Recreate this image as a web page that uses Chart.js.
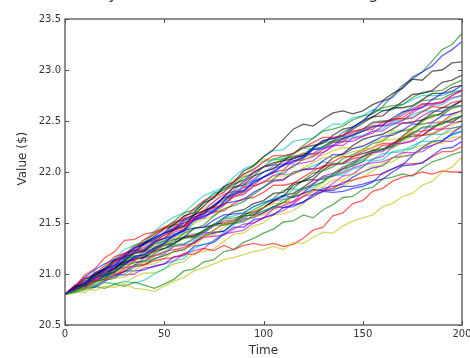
<!DOCTYPE html>
<html><head><meta charset="utf-8">
<script src="https://cdn.jsdelivr.net/npm/chart.js@4/dist/chart.umd.min.js"></script>
<style>html,body{margin:0;padding:0;background:#fff;overflow:hidden}canvas{display:block;filter:blur(0.35px)}</style>
</head><body><canvas id="c" width="470" height="358"></canvas>
<script>
const titleText = 'Many simulated stock values from lognormal';
const xTitle = 'Time';
const yTitle = 'Value ($)';
const times = [0,5,10,15,20,25,30,35,40,45,50,55,60,65,70,75,80,85,90,95,100,105,110,115,120,125,130,135,140,145,150,155,160,165,170,175,180,185,190,195,200];
const path01 = [20.80,20.88,20.91,21.01,21.05,21.08,21.18,21.26,21.28,21.36,21.40,21.44,21.52,21.56,21.59,21.68,21.75,21.78,21.81,21.89,21.95,22.01,22.07,22.09,22.15,22.22,22.23,22.26,22.33,22.36,22.40,22.44,22.46,22.53,22.59,22.61,22.63,22.71,22.77,22.79,22.85];
const path02 = [20.80,20.83,20.90,20.93,20.95,21.03,21.09,21.11,21.13,21.20,21.25,21.30,21.35,21.36,21.42,21.48,21.48,21.50,21.57,21.58,21.62,21.66,21.70,21.77,21.84,21.87,21.90,21.98,22.05,22.08,22.15,22.22,22.23,22.25,22.32,22.38,22.44,22.45,22.47,22.52,22.55];
const path03 = [20.80,20.88,20.96,21.00,21.08,21.17,21.20,21.25,21.34,21.39,21.45,21.51,21.55,21.64,21.72,21.76,21.80,21.90,21.98,22.02,22.10,22.16,22.16,22.18,22.24,22.29,22.34,22.34,22.36,22.40,22.42,22.45,22.46,22.52,22.52,22.53,22.59,22.64,22.63,22.68,22.70];
const path04 = [20.80,20.83,20.85,20.91,20.97,20.98,21.00,21.07,21.13,21.14,21.20,21.28,21.30,21.33,21.41,21.48,21.55,21.57,21.60,21.66,21.70,21.74,21.75,21.83,21.83,21.85,21.91,21.97,21.97,22.03,22.05,22.11,22.12,22.20,22.22,22.23,22.31,22.37,22.37,22.43,22.45];
const path05 = [20.80,20.89,20.91,20.95,21.03,21.11,21.18,21.21,21.24,21.31,21.35,21.41,21.44,21.54,21.56,21.60,21.68,21.76,21.78,21.86,21.90,21.97,21.98,22.07,22.09,22.11,22.19,22.26,22.26,22.33,22.35,22.38,22.45,22.48,22.50,22.58,22.64,22.66,22.68,22.75,22.80];
const path06 = [20.80,20.83,20.86,20.84,20.88,20.87,20.90,20.86,20.85,20.83,20.88,20.93,20.97,21.03,21.06,21.10,21.14,21.16,21.19,21.22,21.24,21.27,21.24,21.31,21.30,21.36,21.41,21.40,21.47,21.52,21.55,21.58,21.66,21.69,21.76,21.79,21.87,21.91,22.00,22.05,22.15];
const path07 = [20.80,20.87,20.90,21.00,21.04,21.13,21.16,21.26,21.30,21.37,21.44,21.48,21.57,21.60,21.70,21.74,21.86,21.90,22.01,22.06,22.15,22.22,22.32,22.42,22.47,22.45,22.52,22.58,22.60,22.57,22.60,22.66,22.70,22.77,22.82,22.91,22.90,22.99,23.00,23.07,23.08];
const path08 = [20.80,20.85,20.88,20.97,20.99,21.02,21.10,21.17,21.19,21.26,21.30,21.39,21.42,21.53,21.57,21.61,21.71,21.80,21.82,21.91,21.95,21.99,22.07,22.11,22.14,22.23,22.30,22.33,22.36,22.44,22.50,22.59,22.69,22.73,22.83,22.93,22.98,23.04,23.14,23.20,23.28];
const path09 = [20.80,20.87,20.89,20.97,21.00,21.02,21.11,21.18,21.18,21.25,21.28,21.32,21.40,21.44,21.48,21.57,21.64,21.67,21.71,21.78,21.85,21.93,22.01,22.05,22.13,22.22,22.25,22.30,22.39,22.44,22.50,22.58,22.64,22.75,22.85,22.91,22.98,23.09,23.20,23.25,23.36];
const path10 = [20.80,20.85,20.86,20.93,20.95,21.00,21.02,21.07,21.09,21.13,21.15,21.16,21.20,21.19,21.25,21.23,21.28,21.24,21.28,21.30,21.28,21.30,21.27,21.29,21.35,21.43,21.46,21.57,21.60,21.69,21.72,21.81,21.84,21.91,21.95,21.97,22.00,21.98,22.01,22.00,22.00];
const path11 = [20.80,20.84,20.93,20.97,21.01,21.10,21.18,21.21,21.25,21.33,21.40,21.48,21.57,21.61,21.70,21.79,21.83,21.88,21.98,22.03,22.10,22.12,22.13,22.18,22.23,22.23,22.24,22.30,22.35,22.35,22.40,22.46,22.45,22.46,22.51,22.56,22.60,22.60,22.60,22.64,22.65];
const path12 = [20.80,20.85,20.91,20.93,20.99,21.05,21.06,21.08,21.16,21.18,21.22,21.24,21.26,21.31,21.36,21.37,21.38,21.44,21.49,21.50,21.55,21.64,21.67,21.71,21.80,21.88,21.96,21.99,22.03,22.10,22.15,22.19,22.20,22.28,22.28,22.30,22.36,22.42,22.42,22.48,22.50];
const path13 = [20.80,20.83,20.84,20.90,20.95,20.96,20.97,21.04,21.09,21.10,21.15,21.23,21.25,21.28,21.36,21.43,21.50,21.52,21.55,21.61,21.65,21.69,21.70,21.78,21.78,21.80,21.86,21.92,21.92,21.98,22.00,22.06,22.06,22.14,22.15,22.16,22.23,22.29,22.28,22.34,22.35];
const path14 = [20.80,20.86,20.89,20.99,21.01,21.05,21.13,21.21,21.23,21.31,21.35,21.44,21.47,21.58,21.62,21.66,21.76,21.85,21.87,21.96,22.00,22.03,22.11,22.13,22.16,22.24,22.31,22.33,22.35,22.42,22.48,22.54,22.60,22.62,22.69,22.76,22.77,22.80,22.88,22.90,22.95];
const path15 = [20.80,20.88,20.90,21.00,21.03,21.06,21.15,21.23,21.24,21.32,21.35,21.37,21.43,21.45,21.46,21.53,21.58,21.59,21.60,21.66,21.70,21.73,21.77,21.75,21.79,21.83,21.82,21.82,21.86,21.86,21.88,21.91,21.93,22.00,22.06,22.07,22.09,22.16,22.23,22.24,22.30];
const path16 = [20.80,20.82,20.85,20.88,20.86,20.90,20.88,20.92,20.89,20.86,20.90,20.95,21.03,21.05,21.12,21.14,21.22,21.24,21.31,21.35,21.40,21.44,21.51,21.52,21.58,21.55,21.63,21.68,21.75,21.76,21.83,21.85,21.93,21.95,21.98,21.96,22.04,22.10,22.13,22.17,22.20];
const path17 = [20.80,20.89,20.92,20.95,21.04,21.12,21.20,21.23,21.26,21.33,21.38,21.43,21.46,21.54,21.62,21.65,21.68,21.77,21.85,21.87,21.95,22.00,22.02,22.11,22.12,22.15,22.22,22.29,22.30,22.37,22.40,22.42,22.49,22.51,22.53,22.60,22.66,22.67,22.69,22.75,22.80];
const path18 = [20.80,20.83,20.85,20.89,20.92,20.90,20.93,20.91,20.94,21.00,21.05,21.13,21.15,21.25,21.29,21.32,21.41,21.49,21.51,21.58,21.62,21.65,21.73,21.76,21.79,21.88,21.95,21.97,22.00,22.07,22.13,22.20,22.21,22.24,22.31,22.37,22.43,22.44,22.47,22.52,22.55];
const path19 = [20.80,20.86,20.93,20.95,21.02,21.09,21.11,21.14,21.22,21.25,21.30,21.38,21.43,21.55,21.59,21.65,21.75,21.85,21.89,21.99,22.05,22.07,22.08,22.13,22.18,22.18,22.19,22.25,22.30,22.30,22.35,22.40,22.40,22.47,22.48,22.48,22.55,22.60,22.59,22.64,22.65];
const path20 = [20.80,20.84,20.87,20.93,21.00,21.02,21.05,21.13,21.19,21.21,21.28,21.36,21.39,21.50,21.54,21.57,21.67,21.75,21.78,21.86,21.90,21.96,21.96,21.98,22.04,22.09,22.14,22.14,22.16,22.20,22.22,22.24,22.31,22.32,22.34,22.41,22.47,22.48,22.49,22.55,22.60];
const path21 = [20.80,20.88,20.89,20.92,20.99,21.06,21.12,21.14,21.16,21.22,21.25,21.30,21.36,21.37,21.43,21.49,21.50,21.52,21.59,21.61,21.65,21.72,21.76,21.87,21.91,21.96,22.05,22.14,22.18,22.26,22.32,22.35,22.37,22.42,22.48,22.49,22.51,22.58,22.63,22.64,22.70];
const path22 = [20.80,20.88,20.97,21.04,21.10,21.14,21.20,21.24,21.31,21.35,21.40,21.43,21.50,21.53,21.55,21.63,21.69,21.71,21.73,21.80,21.85,21.91,21.92,22.00,22.02,22.03,22.11,22.17,22.17,22.23,22.25,22.30,22.35,22.36,22.41,22.47,22.47,22.49,22.55,22.57,22.60];
const path23 = [20.80,20.87,20.89,20.99,21.02,21.04,21.13,21.20,21.22,21.29,21.32,21.38,21.44,21.53,21.62,21.67,21.72,21.82,21.91,21.96,22.05,22.07,22.13,22.15,22.17,22.24,22.29,22.30,22.32,22.37,22.42,22.49,22.50,22.51,22.58,22.64,22.70,22.71,22.72,22.77,22.80];
const path24 = [20.80,20.84,20.93,20.96,21.00,21.09,21.17,21.20,21.23,21.31,21.38,21.46,21.48,21.52,21.60,21.67,21.74,21.76,21.80,21.86,21.90,21.92,21.93,21.98,22.03,22.03,22.04,22.10,22.15,22.15,22.20,22.24,22.28,22.28,22.32,22.37,22.36,22.37,22.42,22.43,22.45];
const path25 = [20.80,20.88,20.90,20.93,21.01,21.08,21.15,21.17,21.20,21.26,21.30,21.36,21.41,21.50,21.59,21.63,21.68,21.78,21.87,21.91,22.00,22.06,22.06,22.14,22.15,22.16,22.24,22.29,22.29,22.34,22.36,22.40,22.42,22.50,22.51,22.53,22.59,22.65,22.66,22.72,22.75];
const path26 = [20.80,20.86,20.93,20.94,21.01,21.08,21.10,21.13,21.20,21.23,21.28,21.30,21.36,21.38,21.40,21.47,21.52,21.53,21.55,21.60,21.65,21.72,21.73,21.76,21.83,21.89,21.95,21.96,21.99,22.04,22.07,22.09,22.10,22.14,22.19,22.19,22.20,22.26,22.30,22.30,22.35];
const path27 = [20.80,20.82,20.89,20.92,20.94,21.01,21.07,21.08,21.11,21.17,21.22,21.28,21.28,21.36,21.37,21.38,21.46,21.51,21.51,21.56,21.58,21.63,21.67,21.76,21.79,21.82,21.90,21.98,22.00,22.08,22.12,22.17,22.23,22.23,22.29,22.35,22.36,22.38,22.44,22.46,22.50];
const path28 = [20.80,20.87,20.95,20.98,21.06,21.14,21.17,21.21,21.30,21.34,21.40,21.50,21.53,21.58,21.67,21.76,21.84,21.88,21.92,22.00,22.05,22.09,22.11,22.18,22.24,22.26,22.28,22.36,22.42,22.44,22.50,22.54,22.55,22.63,22.63,22.65,22.71,22.77,22.77,22.83,22.85];
const path29 = [20.80,20.87,20.88,20.97,20.99,21.01,21.09,21.16,21.16,21.23,21.25,21.28,21.29,21.35,21.40,21.41,21.42,21.49,21.54,21.55,21.60,21.66,21.65,21.66,21.71,21.76,21.81,21.80,21.81,21.84,21.86,21.90,21.99,22.03,22.07,22.16,22.23,22.26,22.30,22.38,22.45];
const path30 = [20.80,20.85,20.88,20.96,20.98,21.01,21.09,21.16,21.17,21.24,21.28,21.30,21.37,21.39,21.41,21.48,21.54,21.55,21.57,21.63,21.68,21.74,21.82,21.84,21.92,21.99,22.01,22.05,22.13,22.17,22.22,22.28,22.30,22.38,22.40,22.42,22.50,22.56,22.56,22.63,22.65];
const path31 = [20.80,20.88,20.99,21.05,21.16,21.22,21.33,21.34,21.39,21.41,21.46,21.48,21.50,21.55,21.61,21.61,21.62,21.69,21.74,21.75,21.80,21.87,21.87,21.89,21.95,22.01,22.06,22.07,22.08,22.13,22.15,22.20,22.26,22.27,22.33,22.39,22.40,22.42,22.49,22.51,22.55];
const path32 = [20.80,20.87,20.90,20.99,21.02,21.05,21.14,21.21,21.22,21.30,21.33,21.39,21.43,21.54,21.57,21.61,21.70,21.78,21.82,21.90,21.95,22.00,21.98,21.98,22.02,22.06,22.10,22.08,22.08,22.10,22.11,22.12,22.18,22.19,22.20,22.26,22.30,22.30,22.31,22.36,22.40];
const path33 = [20.80,20.85,20.89,20.97,21.05,21.09,21.13,21.22,21.30,21.33,21.41,21.45,21.54,21.58,21.62,21.71,21.78,21.81,21.85,21.93,22.00,22.04,22.06,22.15,22.16,22.18,22.25,22.31,22.33,22.39,22.42,22.48,22.49,22.50,22.56,22.62,22.67,22.67,22.68,22.73,22.75];
const path34 = [20.80,20.86,20.93,20.96,21.03,21.10,21.12,21.15,21.24,21.27,21.32,21.42,21.47,21.59,21.65,21.70,21.82,21.92,21.96,22.06,22.12,22.12,22.12,22.15,22.19,22.17,22.16,22.21,22.24,22.23,22.26,22.30,22.32,22.40,22.41,22.43,22.49,22.55,22.56,22.62,22.65];
const path35 = [20.80,20.83,20.91,20.94,20.97,21.05,21.12,21.14,21.17,21.24,21.30,21.34,21.36,21.45,21.46,21.48,21.55,21.61,21.63,21.69,21.72,21.79,21.80,21.89,21.91,21.93,22.02,22.08,22.09,22.15,22.18,22.21,22.22,22.28,22.34,22.35,22.36,22.43,22.49,22.49,22.55];
const path36 = [20.80,20.86,20.86,20.87,20.93,20.98,21.03,21.03,21.04,21.08,21.10,21.17,21.18,21.27,21.29,21.31,21.39,21.46,21.46,21.53,21.55,21.58,21.65,21.68,21.70,21.78,21.84,21.86,21.88,21.95,22.00,22.04,22.06,22.14,22.15,22.17,22.24,22.30,22.31,22.37,22.40];
const path37 = [20.80,20.87,20.91,21.02,21.05,21.10,21.19,21.28,21.31,21.40,21.45,21.52,21.60,21.63,21.71,21.79,21.82,21.86,21.95,21.99,22.05,22.13,22.15,22.18,22.26,22.33,22.40,22.42,22.45,22.51,22.55,22.57,22.63,22.65,22.66,22.73,22.78,22.79,22.80,22.86,22.90];
const path38 = [20.80,20.86,20.87,20.95,20.97,20.98,21.06,21.12,21.12,21.18,21.20,21.27,21.28,21.30,21.37,21.43,21.49,21.50,21.52,21.57,21.60,21.65,21.70,21.71,21.76,21.82,21.82,21.84,21.90,21.92,21.95,21.97,21.98,22.03,22.08,22.08,22.09,22.15,22.20,22.20,22.25];
const path39 = [20.80,20.85,20.95,21.00,21.05,21.15,21.24,21.28,21.33,21.42,21.50,21.56,21.60,21.69,21.77,21.81,21.85,21.95,22.03,22.07,22.15,22.21,22.22,22.30,22.32,22.33,22.41,22.47,22.47,22.53,22.55,22.61,22.60,22.61,22.66,22.71,22.75,22.75,22.75,22.79,22.80];
const path40 = [20.80,20.84,20.89,20.89,20.94,20.99,20.99,21.00,21.06,21.07,21.10,21.13,21.20,21.23,21.25,21.33,21.39,21.41,21.43,21.50,21.55,21.59,21.62,21.69,21.76,21.78,21.81,21.89,21.96,21.98,22.05,22.13,22.15,22.25,22.28,22.31,22.40,22.48,22.49,22.57,22.60];
const path41 = [20.80,20.82,20.82,20.87,20.91,20.91,20.91,20.97,21.01,21.01,21.05,21.10,21.12,21.21,21.22,21.25,21.32,21.39,21.40,21.47,21.50,21.58,21.59,21.62,21.69,21.76,21.82,21.84,21.86,21.92,21.95,22.01,22.08,22.10,22.17,22.24,22.26,22.29,22.37,22.40,22.45];
const path42 = [20.80,20.84,20.86,20.93,20.94,20.96,21.03,21.09,21.09,21.15,21.18,21.22,21.24,21.31,21.38,21.40,21.42,21.50,21.57,21.58,21.65,21.71,21.77,21.79,21.85,21.92,21.93,21.96,22.03,22.06,22.10,22.19,22.22,22.26,22.35,22.43,22.51,22.54,22.58,22.65,22.70];

const paths = [path01,path02,path03,path04,path05,path06,path07,path08,path09,path10,path11,path12,path13,path14,path15,path16,path17,path18,path19,path20,path21,path22,path23,path24,path25,path26,path27,path28,path29,path30,path31,path32,path33,path34,path35,path36,path37,path38,path39,path40,path41,path42];
const pathColors = ['rgba(0,0,255,0.62)','rgba(0,128,0,0.62)','rgba(255,0,0,0.62)','rgba(0,191,191,0.62)','rgba(191,0,191,0.62)','rgba(191,191,0,0.62)','rgba(0,0,0,0.62)'];

const datasets = paths.map((p, i) => ({
  data: p.map((v, j) => ({x: times[j], y: v})),
  borderColor: pathColors[i % pathColors.length],
  borderWidth: 1.3,
  pointRadius: 0,
  fill: false,
  tension: 0
}));

const FONT = 'DejaVu Sans';
const framePlugin = {
  id: 'frame',
  afterDatasetsDraw(chart) {
    const {ctx, chartArea: a, scales: {x, y}} = chart;
    ctx.save();
    ctx.strokeStyle = '#555';
    ctx.lineWidth = 1;
    ctx.beginPath();
    x.ticks.forEach(t => {
      const px = Math.round(x.getPixelForValue(t.value)) + 0.5;
      ctx.moveTo(px, a.bottom); ctx.lineTo(px, a.bottom - 4);
      ctx.moveTo(px, a.top); ctx.lineTo(px, a.top + 4);
    });
    y.ticks.forEach(t => {
      const py = Math.round(y.getPixelForValue(t.value)) + 0.5;
      ctx.moveTo(a.left, py); ctx.lineTo(a.left + 4, py);
      ctx.moveTo(a.right, py); ctx.lineTo(a.right - 4, py);
    });
    ctx.stroke();
    ctx.lineWidth = 1.3;
    ctx.strokeRect(a.left, a.top, a.right - a.left, a.bottom - a.top);
    ctx.restore();
  },
  afterDraw(chart) {
    const {ctx, chartArea: a} = chart;
    ctx.save();
    ctx.font = '16px "' + FONT + '"';
    ctx.fillStyle = '#333';
    ctx.textAlign = 'center';
    ctx.textBaseline = 'alphabetic';
    ctx.fillText(titleText, (a.left + a.right) / 2 - 9, -1);
    ctx.restore();
  }
};

new Chart(document.getElementById('c'), {
  type: 'line',
  data: {datasets},
  plugins: [framePlugin],
  options: {
    responsive: false,
    animation: false,
    devicePixelRatio: 1,
    layout: {padding: {left: 0, right: 8, top: 19, bottom: 0}},
    plugins: {legend: {display: false}, tooltip: {enabled: false}},
    scales: {
      x: {
        type: 'linear', min: 0, max: 200,
        ticks: {stepSize: 50, padding: 3, color: '#333', maxRotation: 0, font: {family: FONT, size: 10}},
        grid: {display: false, drawTicks: false},
        border: {display: false},
        title: {display: true, text: xTitle, color: '#333', font: {family: FONT, size: 12}, padding: {top: 0, bottom: 0}},
        afterFit(s) { s.height = 33; s.paddingLeft = 0; s.paddingRight = 0; }
      },
      y: {
        min: 20.5, max: 23.5,
        ticks: {stepSize: 0.5, padding: 4, color: '#333', font: {family: FONT, size: 10}, callback: v => Number(v).toFixed(1)},
        grid: {display: false, drawTicks: false},
        border: {display: false},
        title: {display: true, text: '\u00a0\u00a0\u00a0\u00a0\u00a0\u00a0\u00a0' + yTitle, color: '#333', font: {family: FONT, size: 12}, padding: {top: 16, bottom: 0}},
        afterFit(s) { s.width = 65; s.paddingTop = 0; s.paddingBottom = 0; }
      }
    }
  }
});
</script>
</body></html>
